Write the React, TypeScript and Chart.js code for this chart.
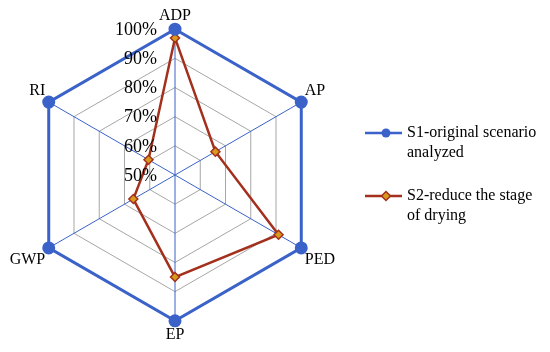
import React, { useEffect, useRef } from "react";
import { Chart, registerables } from "chart.js";

Chart.register(...registerables);

const categories = ["ADP", "AP", "PED", "EP", "GWP", "RI"];
const s1Values = [100, 100, 100, 100, 100, 100];
const s2Values = [97, 66, 91, 85, 66.5, 60.5];
const seriesNames = [["S1-original scenario", "analyzed"], ["S2-reduce the stage", "of drying"]];
const tickMin = 50;
const tickMax = 100;
const tickStep = 10;

const SERIF = "'Times New Roman', 'Liberation Serif', serif";
const BLUE = "#3a62c8";
const RED = "#a3301c";
const ORANGE = "#d89a1c";

const tickPlugin = {
  id: "leftTicks",
  afterDatasetsDraw(chart: any) {
    const scale = chart.scales.r;
    const ctx = chart.ctx;
    ctx.save();
    ctx.font = `18px ${SERIF}`;
    ctx.fillStyle = "#000";
    ctx.textAlign = "right";
    ctx.textBaseline = "middle";
    scale.ticks.forEach((t: any) => {
      const d = scale.getDistanceFromCenterForValue(t.value);
      ctx.fillText(t.value + "%", scale.xCenter - 18, scale.yCenter - d + 1);
    });
    ctx.restore();
  },
};

const legendPlugin = {
  id: "customLegend",
  afterDraw(chart: any) {
    const ctx = chart.ctx;
    ctx.save();
    const items = [
      { y: 133, color: BLUE, kind: "circle", lines: seriesNames[0] },
      { y: 196, color: RED, kind: "diamond", lines: seriesNames[1] },
    ];
    items.forEach((it) => {
      ctx.strokeStyle = it.color;
      ctx.lineWidth = 2.5;
      ctx.beginPath();
      ctx.moveTo(365, it.y);
      ctx.lineTo(402, it.y);
      ctx.stroke();
      if (it.kind === "circle") {
        ctx.fillStyle = BLUE;
        ctx.beginPath();
        ctx.arc(386, it.y, 4.5, 0, Math.PI * 2);
        ctx.fill();
      } else {
        ctx.fillStyle = ORANGE;
        ctx.lineWidth = 1.5;
        ctx.beginPath();
        ctx.moveTo(386, it.y - 4.5);
        ctx.lineTo(390.5, it.y);
        ctx.lineTo(386, it.y + 4.5);
        ctx.lineTo(381.5, it.y);
        ctx.closePath();
        ctx.fill();
        ctx.stroke();
      }
      ctx.fillStyle = "#000";
      ctx.font = `16px ${SERIF}`;
      ctx.textAlign = "left";
      ctx.textBaseline = "middle";
      it.lines.forEach((l: string, i: number) => {
        ctx.fillText(l, 407, it.y + i * 20);
      });
    });
    ctx.restore();
  },
};

export default function App() {
  const ref = useRef<HTMLCanvasElement>(null);
  useEffect(() => {
    if (!ref.current) return;
    const chart = new Chart(ref.current, {
      type: "radar",
      data: {
        labels: categories,
        datasets: [
          {
            label: seriesNames[0].join(" "),
            data: s1Values,
            borderColor: BLUE,
            backgroundColor: BLUE,
            borderWidth: 3,
            pointRadius: 5,
            pointBackgroundColor: BLUE,
            pointBorderColor: BLUE,
            fill: false,
          },
          {
            label: seriesNames[1].join(" "),
            data: s2Values,
            borderColor: RED,
            backgroundColor: ORANGE,
            borderWidth: 2.5,
            pointStyle: "rectRot",
            pointRadius: 4.5,
            pointBorderWidth: 1.5,
            pointBackgroundColor: ORANGE,
            pointBorderColor: RED,
            fill: false,
          },
        ],
      },
      options: {
        responsive: false,
        animation: false,
        layout: { padding: { left: 0, right: 206, top: 6, bottom: 8 } },
        plugins: { legend: { display: false }, tooltip: { enabled: false } },
        scales: {
          r: {
            min: tickMin,
            max: tickMax,
            ticks: { stepSize: tickStep, display: false },
            grid: { color: "#a6a6a6", lineWidth: 1 },
            angleLines: { color: BLUE, lineWidth: 1 },
            pointLabels: {
              color: "#000",
              font: { family: SERIF, size: 16 },
              padding: 4,
            },
          },
        },
      },
      plugins: [tickPlugin, legendPlugin],
    });
    return () => chart.destroy();
  }, []);
  return (
    <div style={{ position: "fixed", left: 0, top: 0, width: 550, height: 352, background: "#fff" }}>
      <canvas ref={ref} width={550} height={352} />
    </div>
  );
}
